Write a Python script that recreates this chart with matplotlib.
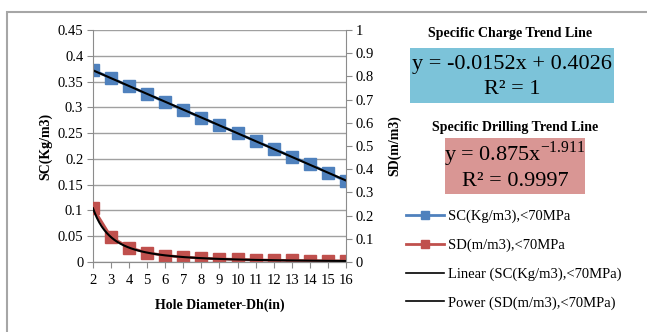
import numpy as np
import matplotlib
matplotlib.use("Agg")
import matplotlib.pyplot as plt
import matplotlib.patches as patches
from matplotlib.lines import Line2D

plt.rcParams['font.family'] = ['Liberation Serif', 'DejaVu Serif']

# data
hole_diameter = [2, 3, 4, 5, 6, 7, 8, 9, 10, 11, 12, 13, 14, 15, 16]
sc_values = [0.372, 0.357, 0.341, 0.326, 0.310, 0.295, 0.280, 0.265,
             0.250, 0.234, 0.220, 0.204, 0.190, 0.173, 0.157]
sd_values = [0.233, 0.107, 0.062, 0.040, 0.028, 0.021, 0.017, 0.013,
             0.011, 0.009, 0.0076, 0.0065, 0.0057, 0.0050, 0.0044]

sc_eq = "y = -0.0152x + 0.4026"
sc_r2 = "R² = 1"
sd_eq = r"y = 0.875x$^{\mathregular{-1.911}}$"
sd_r2 = "R² = 0.9997"

blue = '#4f81bd'
red = '#c0504d'

W, H = 647, 332
fig = plt.figure(figsize=(W / 100, H / 100), dpi=100)

def fx(px):
    return px / W

def fy(py):
    return 1 - py / H

# outer chart border
fig.patches.append(patches.Rectangle((fx(7), fy(340)), fx(660), fy(12) - fy(340),
                                     transform=fig.transFigure, fill=False,
                                     edgecolor='#a6a6a6', lw=1.5))

ax = fig.add_axes([fx(93), fy(262), fx(346) - fx(93), fy(30) - fy(262)])
ax2 = ax.twinx()

x = np.array(hole_diameter, dtype=float)
sc = np.array(sc_values)
sd = np.array(sd_values)

# trend lines fitted from the data (linear, and power in log-log space)
k, b = np.polyfit(x, sc, 1)
xs = np.linspace(2, 16, 200)
pk, pb = np.polyfit(np.log(x), np.log(sd), 1)

l1, = ax.plot(x, sc, color=blue, marker='s', ms=9, lw=2, mec=blue)
l3, = ax.plot(xs, k * xs + b, color='black', lw=1.5)
l2, = ax2.plot(x, sd, color=red, marker='s', ms=9, lw=2, mec=red)
l4, = ax2.plot(xs, np.exp(pb) * xs ** pk, color='black', lw=1.5)

ax.set_xlim(2, 16)
ax.set_ylim(0, 0.45)
ax2.set_ylim(0, 1)
ax.set_yticks(np.arange(0, 0.451, 0.05))
ax.set_yticklabels(['0', '0.05', '0.1', '0.15', '0.2', '0.25', '0.3', '0.35', '0.4', '0.45'])
ax2.set_yticks(np.arange(0, 1.01, 0.1))
ax2.set_yticklabels(['0', '0.1', '0.2', '0.3', '0.4', '0.5', '0.6', '0.7', '0.8', '0.9', '1'])
ax.set_xticks(hole_diameter)
ax.set_xticklabels([str(v) for v in hole_diameter])

ax.grid(axis='y', color='#a0a0a0', lw=1)
ax.set_axisbelow(True)
for a in (ax, ax2):
    a.spines['top'].set_visible(False)
    for s in a.spines.values():
        s.set_color('#8c8c8c')
ax2.spines['left'].set_visible(False)
ax.spines['right'].set_visible(False)
ax.tick_params(axis='y', labelsize=10.5, length=4, color='#8c8c8c', pad=3)
ax.tick_params(axis='x', labelsize=10.5, length=4, color='#8c8c8c', pad=5)
ax2.tick_params(axis='y', labelsize=10.5, length=4, color='#8c8c8c', pad=3)

ax.set_ylabel('SC(Kg/m3)', fontsize=10, fontweight='bold', labelpad=4)
ax2.set_ylabel('SD(m/m3)', fontsize=10, fontweight='bold', labelpad=10)
ax.set_xlabel('Hole Diameter-Dh(in)', fontsize=10, fontweight='bold', labelpad=8)

# trend line boxes
fig.text(fx(510), fy(33), 'Specific Charge Trend Line', ha='center', va='center',
         fontsize=10, fontweight='bold')
fig.patches.append(patches.Rectangle((fx(410), fy(103)), fx(204), fy(48) - fy(103),
                                     transform=fig.transFigure, color='#7cc3d9', lw=0))
fig.text(fx(512), fy(64), sc_eq, ha='center', va='center', fontsize=16)
fig.text(fx(512), fy(89), sc_r2, ha='center', va='center', fontsize=16)

fig.text(fx(515), fy(127), 'Specific Drilling Trend Line', ha='center', va='center',
         fontsize=10, fontweight='bold')
fig.patches.append(patches.Rectangle((fx(445), fy(194)), fx(140), fy(138) - fy(194),
                                     transform=fig.transFigure, color='#d99694', lw=0))
fig.text(fx(515), fy(154), sd_eq, ha='center', va='center', fontsize=16)
fig.text(fx(515), fy(181), sd_r2, ha='center', va='center', fontsize=16)

labels = ['SC(Kg/m3),<70MPa', 'SD(m/m3),<70MPa',
          'Linear (SC(Kg/m3),<70MPa)', 'Power (SD(m/m3),<70MPa)']
leg_handles = [Line2D([], [], color=blue, lw=2, marker='s', ms=6),
               Line2D([], [], color=red, lw=2, marker='s', ms=6),
               Line2D([], [], color='black', lw=1.2),
               Line2D([], [], color='black', lw=1.2)]
fig.legend(leg_handles, labels, loc='upper left', bbox_to_anchor=(fx(400), fy(204)),
           frameon=False, fontsize=10.5, handlelength=2.6, handletextpad=0.3,
           labelspacing=1.05, borderaxespad=0)

fig.savefig('out.png', dpi=100)
